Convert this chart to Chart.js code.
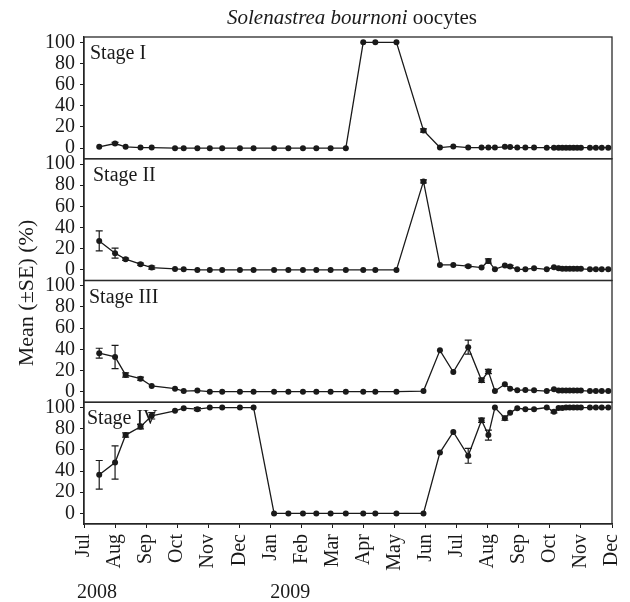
<!DOCTYPE html>
<html><head><meta charset="utf-8">
<script src="https://cdn.jsdelivr.net/npm/chart.js@4"></script>
<style>html,body{margin:0;padding:0;background:#fff}#wrap{width:630px;height:602px}</style>
</head><body><div id="wrap"><canvas id="c" width="630" height="602"></canvas></div>
<script>
const monthLabels = ['Jul','Aug','Sep','Oct','Nov','Dec','Jan','Feb','Mar','Apr','May','Jun','Jul','Aug','Sep','Oct','Nov','Dec'];
const yearLabels = ['2008','2009'];
const yTickValues = [0,20,40,60,80,100];
const stageNames = ['Stage I','Stage II','Stage III','Stage IV'];
const titleItalic = 'Solenastrea bournoni';
const titleNormal = ' oocytes';
const yTitle = 'Mean (\u00b1SE) (%)';

// sampling dates, in months since 1 Jul 2008
const sampleMonths = [0.49,1.00,1.34,1.82,2.18,2.93,3.21,3.65,4.05,4.45,5.02,5.46,6.12,6.58,7.05,7.48,7.94,8.43,8.99,9.38,10.06,10.93,11.46,11.89,12.37,12.80,13.02,13.23,13.55,13.72,13.95,14.21,14.49,14.90,15.13,15.28,15.40,15.52,15.64,15.76,15.88,16.00,16.29,16.48,16.67,16.88];

const stageI   = [1.3,4.4,1.3,0.6,0.6,0,0,0,0,0,0,0,0,0,0,0,0,0,100,100,100,16.7,0.6,1.6,0.6,0.6,0.6,0.6,1.3,1.0,0.6,0.6,0.6,0.5,0.5,0.5,0.5,0.5,0.5,0.5,0.5,0.5,0.5,0.5,0.5,0.5];
const stageISE = [0,1,0,0,0,0,0,0,0,0,0,0,0,0,0,0,0,0,0,0,0,1.5,0,0,0,0,0,0,0,0,0,0,0,0,0,0,0,0,0,0,0,0,0,0,0,0];

const stageII   = [27.4,15.8,10.1,5.4,2.2,0.9,0.6,0,0,0,0,0,0,0,0,0,0,0,0,0,0,83.6,4.7,4.7,3.5,2.2,8.5,0.6,4.1,3.2,0.6,0.6,1.6,0.6,2.5,1.6,1.2,1,1,1,1,1,0.6,0.6,0.6,0.6];
const stageIISE = [9.5,4.7,1,1,1.5,0,0,0,0,0,0,0,0,0,0,0,0,0,0,0,0,1.5,0,0,1,0,2,0,0,1,0,0,0,0,0,0,0,0,0,0,0,0,0,0,0,0];

const stageIII   = [36.3,32.8,15.8,12.3,5.4,2.8,0.6,1.0,0,0,0,0,0,0,0,0,0,0,0,0,0,0.6,39,18.6,42,10.7,19,0.6,7,2.8,1.3,1.6,1.3,0.6,2.2,1.2,1,1,1,1,1,1,0.6,0.6,0.6,0.6];
const stageIIISE = [4.7,11,2,1.5,0,0,0,0,0,0,0,0,0,0,0,0,0,0,0,0,0,0,0,0,6.6,2,2,0,0,0,0,0,0,0,0,0,0,0,0,0,0,0,0,0,0,0];

const stageIV   = [36.5,48.1,74,81.8,92.2,96.9,99.4,98.5,100,100,100,100,0,0,0,0,0,0,0,0,0,0,57.5,77,54.4,88,74,100,90,95,99.4,98.4,98.4,100,96,99.5,99.6,100,100,100,100,100,100,100,100,100];
const stageIVSE = [13.5,15.7,2,2,3,0,0,1.5,0,0,0,0,0,0,0,0,0,0,0,0,0,0,0,0,7,2,4.7,0,2,0,0,0,0,0,1,0,0,0,0,0,0,0,0,0,0,0];

const FONT = '"Liberation Serif", "DejaVu Serif", serif';
const INK = '#1a1a1a';
const stageValues = [stageI, stageII, stageIII, stageIV];
const stageSE = [stageISE, stageIISE, stageIIISE, stageIVSE];
const axisIds = ['y1','y2','y3','y4'];

function makeY(weight){
  return {
    type:'linear', position:'left', stack:'panels', stackWeight:1, weight:weight,
    min:-10, max:105,
    afterBuildTicks: s => { s.ticks = yTickValues.map(v => ({value:v})); },
    afterFit: s => { s.width = 84; s.paddingTop = 0; s.paddingBottom = 0; },
    ticks:{ font:{family:FONT, size:20}, color:INK, padding:5, autoSkip:false, callback: v => String(v) },
    grid:{ display:true, drawOnChartArea:false, drawTicks:true, tickLength:4, color:INK, lineWidth:1 },
    border:{ display:true, color:INK, width:1.3 }
  };
}

const decor = {
  id:'decor',
  afterDatasetsDraw(chart){
    const ctx = chart.ctx, xs = chart.scales.x;
    ctx.save();
    ctx.strokeStyle = INK; ctx.lineWidth = 1.2;
    stageValues.forEach((vals, d) => {
      const ys = chart.scales[axisIds[d]];
      vals.forEach((v, i) => {
        const se = stageSE[d][i];
        if (!se) return;
        const x = xs.getPixelForValue(sampleMonths[i]);
        const t = ys.getPixelForValue(v + se), b = ys.getPixelForValue(v - se);
        ctx.beginPath();
        ctx.moveTo(x, t); ctx.lineTo(x, b);
        ctx.moveTo(x - 3.5, t); ctx.lineTo(x + 3.5, t);
        ctx.moveTo(x - 3.5, b); ctx.lineTo(x + 3.5, b);
        ctx.stroke();
      });
    });
    ctx.restore();
  },
  afterDraw(chart){
    const ctx = chart.ctx, a = chart.chartArea, xs = chart.scales.x;
    ctx.save();
    ctx.strokeStyle = '#2a2a2a'; ctx.lineWidth = 1.3;
    const offs = [6, 9, 5, 3];
    axisIds.forEach((id, k) => {
      const s = chart.scales[id];
      ctx.strokeRect(a.left, s.top, a.right - a.left, s.bottom - s.top);
      ctx.fillStyle = INK;
      ctx.font = '20px ' + FONT;
      ctx.textAlign = 'left'; ctx.textBaseline = 'alphabetic';
      ctx.fillText(stageNames[k], a.left + offs[k], s.top + 22);
    });
    // title
    ctx.fillStyle = INK;
    ctx.textBaseline = 'alphabetic';
    ctx.font = 'italic 21px ' + FONT;
    const w1 = ctx.measureText(titleItalic).width;
    ctx.font = '21px ' + FONT;
    const w2 = ctx.measureText(titleNormal).width;
    let tx = (a.left + a.right) / 2 + 4 - (w1 + w2) / 2;
    ctx.textAlign = 'left';
    ctx.font = 'italic 21px ' + FONT;
    ctx.fillText(titleItalic, tx, 24);
    ctx.font = '21px ' + FONT;
    ctx.fillText(titleNormal, tx + w1, 24);
    // y title
    ctx.save();
    ctx.translate(27, 293);
    ctx.rotate(-Math.PI / 2);
    ctx.textAlign = 'center'; ctx.textBaseline = 'middle';
    ctx.font = '22px ' + FONT;
    ctx.fillText(yTitle, 0, 0);
    ctx.restore();
    // years
    ctx.font = '20px ' + FONT;
    ctx.textAlign = 'center'; ctx.textBaseline = 'alphabetic';
    ctx.fillText(yearLabels[0], xs.getPixelForValue(0) + 13, 598);
    ctx.fillText(yearLabels[1], xs.getPixelForValue(6) + 20, 598);
    ctx.restore();
  }
};

const datasets = stageValues.map((vals, d) => ({
  label: stageNames[d],
  data: vals.map((v, i) => ({x: sampleMonths[i], y: v})),
  yAxisID: axisIds[d],
  borderColor: INK, backgroundColor: INK,
  borderWidth: 1.3, tension: 0,
  pointRadius: 3, pointBorderWidth: 0, pointBackgroundColor: INK
}));

new Chart(document.getElementById('c'), {
  type: 'line',
  data: { datasets },
  options: {
    responsive: false, animation: false, devicePixelRatio: 1,
    layout: { padding: { top: 37, right: 18, bottom: 0, left: 0 } },
    plugins: { legend: { display: false }, tooltip: { enabled: false }, title: { display: false } },
    scales: {
      x: {
        type: 'linear', min: 0, max: 17,
        afterBuildTicks: s => { s.ticks = monthLabels.map((_, i) => ({value: i})); },
        afterFit: s => { s.height = 78; s.paddingLeft = 0; s.paddingRight = 0; },
        ticks: { font: {family: FONT, size: 20}, color: INK, minRotation: 90, maxRotation: 90, autoSkip: false, padding: 6,
                 callback: v => monthLabels[v] },
        grid: { display: true, drawOnChartArea: false, drawTicks: true, tickLength: 4, color: INK },
        border: { display: true, color: INK, width: 1.3 }
      },
      y1: makeY(4),
      y2: makeY(3),
      y3: makeY(2),
      y4: makeY(1)
    }
  },
  plugins: [decor]
});
</script></body></html>
